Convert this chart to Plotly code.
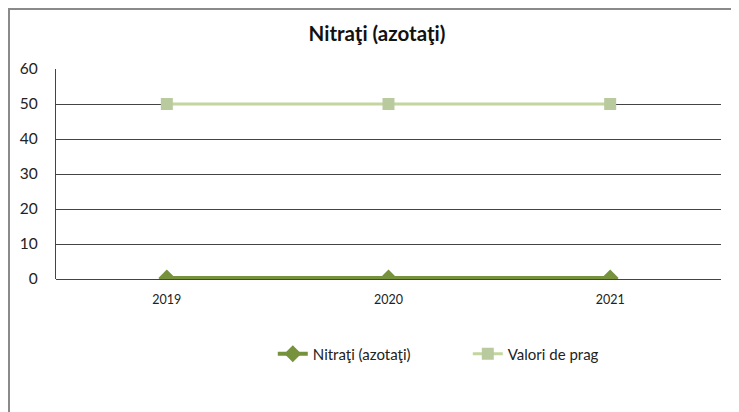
import plotly.graph_objects as go

years = ["2019", "2020", "2021"]
nitrati = [0.3, 0.3, 0.3]
valori_prag = [50, 50, 50]
y_ticks = [0, 10, 20, 30, 40, 50, 60]

fig = go.Figure()
fig.add_trace(go.Scatter(
    x=years, y=nitrati, name="Nitraţi (azotaţi)", mode="lines+markers",
    line=dict(color="#76923C", width=4),
    marker=dict(symbol="diamond", size=13, color="#76923C"),
))
fig.add_trace(go.Scatter(
    x=years, y=valori_prag, name="Valori de prag", mode="lines+markers",
    line=dict(color="#C4D69F", width=3),
    marker=dict(symbol="square", size=12, color="#B8CA9E"),
))

FONT = "Lato, Open Sans, sans-serif"
fig.update_layout(
    width=739, height=412,
    paper_bgcolor="white", plot_bgcolor="white",
    margin=dict(l=48, r=26, t=61, b=141),
    title=dict(text="<b>Nitraţi (azotaţi)</b>", x=369 / 739, xanchor="center",
               y=1 - 26 / 412, yanchor="middle",
               font=dict(family=FONT, size=20.5, color="#111")),
    font=dict(family=FONT, size=12, color="#222"),
    showlegend=True,
    legend=dict(orientation="h", x=0.326, xanchor="left",
                y=-75 / 210, yanchor="middle",
                font=dict(size=15, color="#222"), entrywidth=150,
                traceorder="normal"),
    xaxis=dict(type="category", range=[-0.5, 2.5], showgrid=False, showline=False,
               ticks="outside", ticklen=9, tickcolor="white",
               tickfont=dict(size=12.5, color="#222")),
    yaxis=dict(range=[0, 60], tickvals=y_ticks, showgrid=True, gridcolor="#444",
               gridwidth=1.3, showline=True, linecolor="#444", linewidth=1.3,
               zeroline=True, zerolinecolor="#444", zerolinewidth=1.3,
               ticks="outside", ticklen=14, tickcolor="white",
               tickfont=dict(size=15.5, color="#222")),
    shapes=[
        dict(type="line", xref="paper", yref="paper", x0=-48/665, x1=1 + 26/665,
             y0=1 + 60/210, y1=1 + 60/210, line=dict(color="#8a8a8a", width=2)),
        dict(type="line", xref="paper", yref="paper", x0=-47/665, x1=-47/665,
             y0=-141/210, y1=1 + 61/210, line=dict(color="#8a8a8a", width=2)),
    ],
)

fig.write_html("out.html")
